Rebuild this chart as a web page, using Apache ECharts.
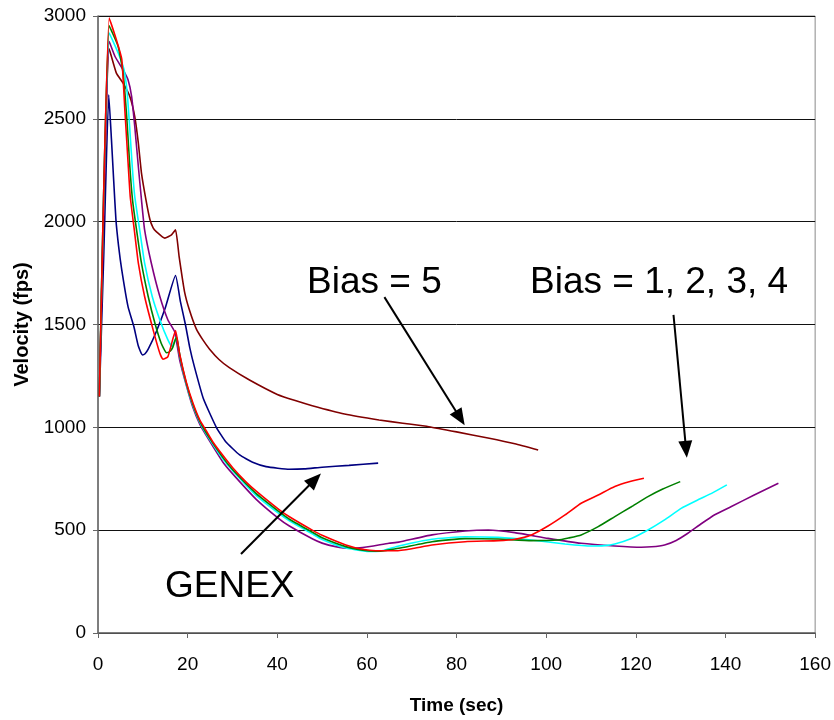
<!DOCTYPE html>
<html>
<head>
<meta charset="utf-8">
<script src="https://cdn.jsdelivr.net/npm/echarts@6/dist/echarts.min.js"></script>
<style>
html,body{margin:0;padding:0;background:#fff;}
#chart{width:834px;height:720px;}
</style>
</head>
<body>
<div id="chart"></div>
<script>
// ---- data: [time (sec), velocity (fps)] ----
const genex = [[0.3,1150],[1.3,1850],[2.4,2617],[3.0,2400],[3.5,2200],[4.0,2010],[4.6,1880],[5.3,1766],[6.7,1587],[8.0,1490],[9.0,1395],[9.9,1352],[10.5,1358],[11.2,1380],[13.0,1465],[15.0,1580],[17.3,1738],[18.4,1610],[19.5,1500],[20.5,1385],[21.5,1295],[23.5,1140],[26.4,1000],[28.5,930],[31.6,866],[34.5,830],[37.5,809],[42.7,796],[46,798],[50,806],[56,815],[62.5,826]];
const bias5 = [[0.3,1150],[2.5,2840],[4.1,2722],[5.6,2674],[7.1,2609],[8.2,2511],[9.0,2382],[9.7,2236],[10.7,2106],[11.6,2009],[12.3,1970],[13.0,1952],[14.9,1920],[16.4,1936],[17.3,1960],[18.1,1830],[19.3,1660],[20.4,1570],[21.9,1480],[23.4,1425],[24.9,1380],[27,1330],[29.3,1290],[33.8,1230],[40,1160],[44,1130],[47.8,1105],[55,1065],[62.7,1036],[68,1020],[73.8,1003],[80,978],[87,948],[93,920],[98.2,890]];
const bias1 = [[0.3,1150],[2.5,2990],[4.1,2884],[5.3,2790],[6.0,2540],[6.7,2290],[7.2,2120],[8.1,1960],[9.0,1798],[10.4,1636],[12.3,1474],[13.8,1360],[14.5,1331],[15.6,1344],[17.3,1470],[18.2,1358],[19.7,1220],[21.2,1117],[22.7,1036],[24.1,985],[25.6,930],[27.8,865],[30,805],[33,735],[35.3,690],[40.4,600],[42.7,565],[47.8,500],[50,475],[55.3,428],[59,407],[62,400],[66.4,400],[70,410],[74.5,428],[81.9,444],[89.3,449],[93,456],[96.7,477],[100.4,520],[104.2,574],[107.8,631],[111.6,671],[115.3,712],[118.5,735],[121.8,752]];
const bias2 = [[0.3,1150],[2.5,2952],[4.5,2852],[5.6,2722],[6.4,2511],[7.1,2268],[7.7,2106],[8.6,1960],[9.7,1798],[11.2,1636],[12.7,1506],[14.1,1409],[15.3,1363],[16.1,1370],[16.7,1390],[17.5,1440],[18.3,1345],[19.7,1215],[21.2,1110],[22.7,1030],[24.1,975],[27.8,855],[30,795],[35.3,678],[40.4,590],[42.7,553],[47.8,490],[50,463],[55.3,420],[60,400],[63,398],[67.1,412],[74.5,444],[81.9,459],[89.3,457],[96.7,449],[102.7,452],[105,462],[107.8,477],[111.6,517],[115.3,566],[119,614],[122.7,663],[126,700],[129.9,736]];
const bias3 = [[0.3,1150],[2.5,2917],[4.5,2820],[5.8,2740],[6.5,2630],[7.1,2447],[7.7,2250],[8.2,2122],[9.3,1960],[10.4,1798],[12.1,1636],[13.8,1522],[15.6,1425],[16.5,1393],[17.5,1440],[18.3,1340],[19.7,1210],[21.2,1105],[22.7,1025],[24.1,970],[27.8,848],[30,790],[35.3,668],[40.4,580],[42.7,545],[47.8,482],[50,455],[55.3,413],[60,397],[63,398],[67.1,423],[74.5,456],[81.9,468],[89.3,465],[96.7,452],[104.2,433],[110.1,423],[113,425],[115.3,433],[119,460],[122.7,501],[126.4,550],[130.1,606],[133.8,647],[137,680],[140.3,720]];
const bias4 = [[0.3,1150],[2.5,2876],[3.8,2803],[5.6,2738],[6.7,2690],[7.5,2609],[8.2,2463],[9.0,2268],[9.7,2106],[10.4,1960],[11.9,1798],[13.8,1636],[15.6,1522],[17.1,1465],[18.2,1330],[19.7,1205],[21.2,1095],[22.7,1015],[24.1,962],[27.8,833],[30,775],[35.3,650],[40.4,555],[42.7,520],[47.8,458],[50,437],[53,420],[56,412],[59,415],[64.9,436],[67.1,442],[74.5,477],[81.9,496],[87.1,501],[93,488],[100.4,460],[107.8,436],[115.3,423],[121.2,417],[123.5,419],[126.4,428],[129,450],[131.6,485],[134.5,530],[137.5,574],[141.2,614],[146.4,671],[151.8,728]];

const xTicks = {min: 0, max: 160, interval: 20};
const yTicks = {min: 0, max: 3000, interval: 500};

// annotation arrows (data coordinates: tail -> head)
const arrowBias5 = [[63.9,1633],[80.8,1045]];
const arrowBias14 = [[128.4,1547],[131.2,893]];
const arrowGenex = [[31.9,384],[48.4,746]];

const labels = ['Bias = 5', 'Bias = 1, 2, 3, 4', 'GENEX'];

const FONT = '"Liberation Sans", Arial, sans-serif';

function line(name, data, color, extra) {
  return Object.assign({
    name: name, type: 'line', data: data, showSymbol: false, smooth: 0.15,
    lineStyle: {color: color, width: 1.6}, itemStyle: {color: color},
    emphasis: {disabled: true}, silent: true, animation: false
  }, extra || {});
}

const chart = echarts.init(document.getElementById('chart'), null, {renderer: 'canvas'});
chart.setOption({
  backgroundColor: '#ffffff',
  animation: false,
  grid: {left: 98, right: 16, top: 16, bottom: 87, show: true, borderColor: '#8a8a8a', borderWidth: 1},
  xAxis: {
    type: 'value', min: xTicks.min, max: xTicks.max, interval: xTicks.interval,
    name: 'Time (sec)', nameLocation: 'middle', nameGap: 63,
    nameTextStyle: {fontFamily: FONT, fontSize: 19, fontWeight: 'bold', color: '#000'},
    axisLine: {show: true, lineStyle: {color: '#666', width: 1.5}},
    axisTick: {show: true, inside: false, length: 5, lineStyle: {color: '#666'}},
    axisLabel: {fontFamily: FONT, fontSize: 19, color: '#000', margin: 22, formatter: v => String(v)},
    splitLine: {show: false}
  },
  yAxis: {
    type: 'value', min: yTicks.min, max: yTicks.max, interval: yTicks.interval,
    name: 'Velocity (fps)', nameLocation: 'middle', nameGap: 66, nameRotate: 90,
    nameTextStyle: {fontFamily: FONT, fontSize: 20, fontWeight: 'bold', color: '#000'},
    axisLine: {show: true, lineStyle: {color: '#666', width: 1.5}},
    axisTick: {show: true, inside: false, length: 5, lineStyle: {color: '#666'}},
    axisLabel: {fontFamily: FONT, fontSize: 19, color: '#000', margin: 12, formatter: v => String(v)},
    splitLine: {show: true, lineStyle: {color: '#111', width: 1}}
  },
  series: [
    line('GENEX', genex, '#000080', {
      markLine: {
        silent: true, animation: false,
        symbol: ['none', 'triangle'], symbolSize: [14, 17],
        label: {show: false},
        lineStyle: {color: '#000', width: 2, type: 'solid'},
        itemStyle: {color: '#000'},
        emphasis: {disabled: true},
        data: [
          [{coord: arrowBias5[0]}, {coord: arrowBias5[1]}],
          [{coord: arrowBias14[0]}, {coord: arrowBias14[1]}],
          [{coord: arrowGenex[0]}, {coord: arrowGenex[1]}]
        ]
      }
    }),
    line('Bias = 5', bias5, '#800000'),
    line('Bias = 4', bias4, '#800080'),
    line('Bias = 3', bias3, '#00FFFF'),
    line('Bias = 2', bias2, '#008000'),
    line('Bias = 1', bias1, '#FF0000')
  ],
  graphic: [
    {type: 'text', left: 307, top: 264, silent: true, style: {text: labels[0], font: '37px ' + FONT, fill: '#000'}},
    {type: 'text', left: 530, top: 264, silent: true, style: {text: labels[1], font: '37px ' + FONT, fill: '#000'}},
    {type: 'text', left: 165, top: 568, silent: true, style: {text: labels[2], font: '37px ' + FONT, fill: '#000'}}
  ]
});
</script>
</body>
</html>
